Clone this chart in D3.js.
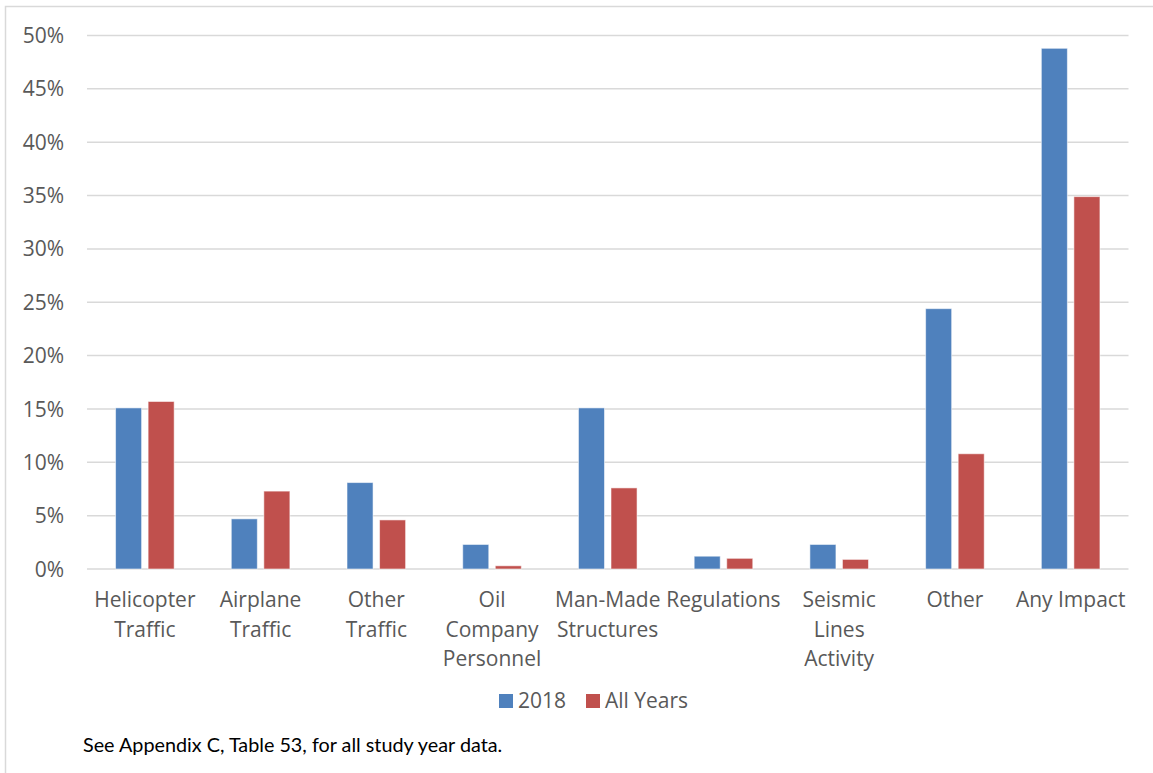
<!DOCTYPE html>
<html>
<head>
<meta charset="utf-8">
<script src="https://cdn.jsdelivr.net/npm/d3@7"></script>
<style>
  html, body { margin: 0; padding: 0; background: #fff; }
  svg { display: block; }
  text { font-family: "Open Sans", sans-serif; }
  text.note { font-family: Lato, sans-serif; }
</style>
</head>
<body>
<svg id="chart" width="1153" height="773"></svg>
<script>
// Category labels (line breaks mark wrapped axis labels)
const categories = [
  "Helicopter\nTraffic",
  "Airplane\nTraffic",
  "Other\nTraffic",
  "Oil\nCompany\nPersonnel",
  "Man-Made\nStructures",
  "Regulations",
  "Seismic\nLines\nActivity",
  "Other",
  "Any Impact"
];
const seriesNames = ["2018", "All Years"];
const values2018 = [15.1, 4.7, 8.1, 2.3, 15.1, 1.2, 2.3, 24.4, 48.8];
const valuesAllYears = [15.7, 7.3, 4.6, 0.3, 7.6, 1.0, 0.9, 10.8, 34.9];
const colors = ["#4F81BD", "#C0504D"];
const yTicks = [0, 5, 10, 15, 20, 25, 30, 35, 40, 45, 50];
const footnote = "See Appendix C, Table 53, for all study year data.";

const seriesValues = [values2018, valuesAllYears];
const rows = categories.map((c, i) => ({
  category: c,
  values: seriesNames.map((s, j) => ({ series: s, idx: j, value: seriesValues[j][i] }))
}));

const svg = d3.select("#chart");
const labelSize = 21;

// Chart frame
svg.append("path")
  .attr("d", "M5.5,773 L5.5,6.5 L1153,6.5")
  .attr("fill", "none")
  .attr("stroke", "#d9d9d9")
  .attr("stroke-width", 1.5);

const plot = { left: 87, right: 1128.5, top: 35.5, bottom: 569 };

const y = d3.scaleLinear().domain([0, 50]).range([plot.bottom, plot.top]);
const x0 = d3.scaleBand().domain(categories).range([plot.left, plot.right]).padding(0);
const groupW = 58.6;
const x1 = d3.scaleBand().domain(seriesNames)
  .range([x0.bandwidth() / 2 - groupW / 2, x0.bandwidth() / 2 + groupW / 2])
  .paddingInner(0.2).paddingOuter(0);

// Horizontal gridlines
svg.append("g")
  .selectAll("line")
  .data(yTicks)
  .join("line")
  .attr("x1", plot.left)
  .attr("x2", plot.right)
  .attr("y1", d => y(d))
  .attr("y2", d => y(d))
  .attr("stroke", "#d9d9d9")
  .attr("stroke-width", 1.5);

// Y axis labels
svg.append("g")
  .selectAll("text")
  .data(yTicks)
  .join("text")
  .attr("x", 64)
  .attr("y", d => y(d))
  .attr("dy", "0.36em")
  .attr("text-anchor", "end")
  .attr("font-size", labelSize)
  .attr("fill", "#595959")
  .text(d => d + "%");

// Bars
const groups = svg.append("g")
  .selectAll("g")
  .data(rows)
  .join("g")
  .attr("transform", d => `translate(${x0(d.category)},0)`);

groups.selectAll("rect")
  .data(d => d.values)
  .join("rect")
  .attr("x", d => x1(d.series))
  .attr("y", d => y(d.value))
  .attr("width", x1.bandwidth())
  .attr("height", d => y(0) - y(d.value))
  .attr("fill", d => colors[d.idx])
  .attr("stroke", "rgba(255,255,255,0.55)")
  .attr("stroke-width", 1);

// Category labels
const catLabels = svg.append("g")
  .selectAll("text")
  .data(categories)
  .join("text")
  .attr("x", d => x0(d) + x0.bandwidth() / 2)
  .attr("y", 607)
  .attr("text-anchor", "middle")
  .attr("font-size", labelSize)
  .attr("fill", "#595959");

catLabels.selectAll("tspan")
  .data(d => d.split("\n").map((t, i) => ({ t, i })))
  .join("tspan")
  .attr("x", function () { return d3.select(this.parentNode).attr("x"); })
  .attr("dy", d => d.i === 0 ? 0 : 29.5)
  .text(d => d.t);

// Legend
const legendItems = [
  { name: seriesNames[0], color: colors[0], x: 499 },
  { name: seriesNames[1], color: colors[1], x: 586 }
];
const legend = svg.append("g")
  .selectAll("g")
  .data(legendItems)
  .join("g")
  .attr("transform", d => `translate(${d.x},0)`);
legend.append("rect")
  .attr("x", 0)
  .attr("y", 694)
  .attr("width", 14)
  .attr("height", 14)
  .attr("fill", d => d.color);
legend.append("text")
  .attr("x", 19)
  .attr("y", 708)
  .attr("font-size", labelSize)
  .attr("fill", "#595959")
  .text(d => d.name);

// Footnote
svg.append("text")
  .attr("class", "note")
  .attr("x", 83)
  .attr("y", 752)
  .attr("font-size", 19.8)
  .attr("fill", "#000")
  .text(footnote);
</script>
</body>
</html>
